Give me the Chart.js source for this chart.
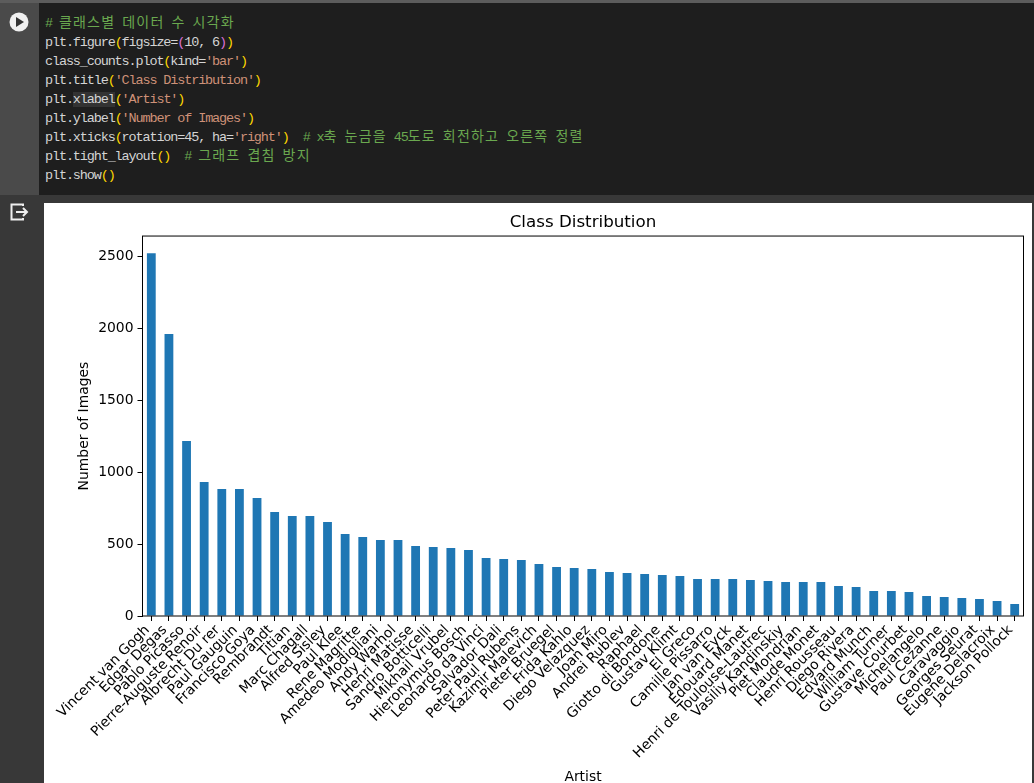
<!DOCTYPE html>
<html>
<head>
<meta charset="utf-8">
<script src="https://cdn.jsdelivr.net/npm/chart.js@4"></script>
<style>
html, body { margin:0; padding:0; width:1034px; height:783px; overflow:hidden; background:#383838; }
#gutter { position:absolute; left:0; top:3px; width:39px; height:192px; background:#4a4a4a; }
#cell { position:absolute; left:39px; top:3px; width:995px; height:192px; background:#1e1e1e; }
#topline { position:absolute; left:0; top:0; width:1034px; height:3px; background:#5c5c5c; }
#code { position:absolute; left:45px; top:14px; margin:0; font:13.5px/19px 'Liberation Mono', monospace; letter-spacing:-1.14px; color:#d4d4d4; white-space:pre; }
#code .c { color:#6aa84f; }
#code .k { font-family:'Noto Sans CJK KR'; font-size:14px; line-height:0; letter-spacing:1.2px; }
#code .s { color:#ce9178; }
#code .b { color:#ffd700; }
#code .p { color:#da70d6; }
#code .h { background:#333; }
#output { position:absolute; left:44px; top:203px; width:988px; height:580px; background:#fff; overflow:hidden; }
svg { position:absolute; }
</style>
</head>
<body>
<div id="topline"></div>
<div id="gutter"></div>
<div id="cell"></div>
<svg style="left:9px;top:12px" width="20" height="20" viewBox="0 0 20 20"><circle cx="10" cy="10" r="9.5" fill="#f0f0f0"/><path d="M7 5l8 5-8 5z" fill="#333"/></svg>
<svg style="left:9px;top:202px" width="22" height="20" viewBox="0 0 22 20"><path d="M14 4V2.5H2.5v15H14V16" fill="none" stroke="#eee" stroke-width="2"/><path d="M7 10h11M14 6l4 4-4 4" fill="none" stroke="#eee" stroke-width="2"/></svg>
<pre id="code"><span class="c"># <span class="k">클래스별</span> <span class="k">데이터</span> <span class="k">수</span> <span class="k">시각화</span></span>
plt.figure<span class="b">(</span>figsize=<span class="p">(</span>10, 6<span class="p">)</span><span class="b">)</span>
class_counts.plot<span class="b">(</span>kind=<span class="s">'bar'</span><span class="b">)</span>
plt.title<span class="b">(</span><span class="s">'Class Distribution'</span><span class="b">)</span>
plt.<span class="h">xlabel</span><span class="b">(</span><span class="s">'Artist'</span><span class="b">)</span>
plt.ylabel<span class="b">(</span><span class="s">'Number of Images'</span><span class="b">)</span>
plt.xticks<span class="b">(</span>rotation=45, ha=<span class="s">'right'</span><span class="b">)</span>  <span class="c"># x<span class="k">축</span> <span class="k">눈금을</span> 45<span class="k">도로</span> <span class="k">회전하고</span> <span class="k">오른쪽</span> <span class="k">정렬</span></span>
plt.tight_layout<span class="b">()</span>  <span class="c"># <span class="k">그래프</span> <span class="k">겹침</span> <span class="k">방지</span></span>
plt.show<span class="b">()</span></pre>
<div id="output"><canvas id="chart" width="988" height="600"></canvas></div>
<script>
const artists = ['Vincent van Gogh', 'Edgar Degas', 'Pablo Picasso', 'Pierre-Auguste Renoir', 'Albrecht Du rer',
    'Paul Gauguin', 'Francisco Goya', 'Rembrandt', 'Titian', 'Marc Chagall', 'Alfred Sisley', 'Paul Klee',
    'Rene Magritte', 'Amedeo Modigliani', 'Andy Warhol', 'Henri Matisse', 'Sandro Botticelli', 'Mikhail Vrubel',
    'Hieronymus Bosch', 'Leonardo da Vinci', 'Salvador Dali', 'Peter Paul Rubens', 'Kazimir Malevich',
    'Pieter Bruegel', 'Frida Kahlo', 'Diego Velazquez', 'Joan Miro', 'Andrei Rublev', 'Raphael',
    'Giotto di Bondone', 'Gustav Klimt', 'El Greco', 'Camille Pissarro', 'Jan van Eyck', 'Edouard Manet',
    'Henri de Toulouse-Lautrec', 'Vasiliy Kandinskiy', 'Piet Mondrian', 'Claude Monet', 'Henri Rousseau',
    'Diego Rivera', 'Edvard Munch', 'William Turner', 'Gustave Courbet', 'Michelangelo', 'Paul Cezanne',
    'Caravaggio', 'Georges Seurat', 'Eugene Delacroix', 'Jackson Pollock'];
const imageCounts = [2520, 1958, 1215, 931, 882, 882, 819, 722, 694, 694, 653, 569, 549, 528, 528, 486, 479, 472,
    458, 403, 396, 389, 361, 340, 333, 326, 306, 299, 292, 285, 278, 257, 257, 257, 250, 243, 236, 236, 236, 208,
    201, 174, 174, 167, 139, 132, 125, 118, 104, 83];
const yTicks = [0, 500, 1000, 1500, 2000, 2500];

const FONT = 'DejaVu Sans';

// matplotlib style closed frame round the axes
const frame = {
    id: 'frame',
    afterDatasetsDraw(chart) {
        const a = chart.chartArea, ctx = chart.ctx;
        ctx.save();
        ctx.strokeStyle = '#000';
        ctx.lineWidth = 1;
        ctx.strokeRect(a.left, a.top, a.right - a.left, a.bottom - a.top);
        ctx.restore();
    }
};

new Chart(document.getElementById('chart'), {
    type: 'bar',
    data: { labels: artists, datasets: [{ data: imageCounts, backgroundColor: '#1f77b4', barPercentage: 0.5, categoryPercentage: 1.0 }] },
    plugins: [frame],
    options: {
        responsive: false,
        animation: false,
        layout: { padding: { left: 32, right: 8.5, top: 0, bottom: 17 } },
        plugins: {
            legend: { display: false },
            tooltip: { enabled: false },
            title: { display: true, fullSize: false, text: 'Class Distribution', color: '#000', font: { family: FONT, size: 16.7, weight: 'normal' }, padding: { top: 10, bottom: 3 } }
        },
        scales: {
            x: {
                afterFit: s => { s.height = 170; },
                border: { display: false },
                grid: { drawOnChartArea: false, offset: false, tickColor: '#000', tickLength: 5, tickWidth: 1 },
                ticks: { autoSkip: false, minRotation: 45, maxRotation: 45, labelOffset: -4, color: '#000', padding: 1, font: { family: FONT, size: 13.9 } },
                title: { display: true, text: 'Artist', color: '#000', font: { family: FONT, size: 13.9 }, padding: 0 }
            },
            y: {
                min: 0,
                max: 2639,
                afterFit: s => { s.width = 66.5; },
                afterBuildTicks: s => { s.ticks = yTicks.map(v => ({ value: v })); },
                border: { display: false },
                grid: { drawOnChartArea: false, tickColor: '#000', tickLength: 5, tickWidth: 1 },
                ticks: { color: '#000', padding: 4, font: { family: FONT, size: 13.9 }, callback: v => String(v) },
                title: { display: true, text: 'Number of Images', color: '#000', font: { family: FONT, size: 13.9 }, padding: 0 }
            }
        }
    }
});
</script>
</body>
</html>
